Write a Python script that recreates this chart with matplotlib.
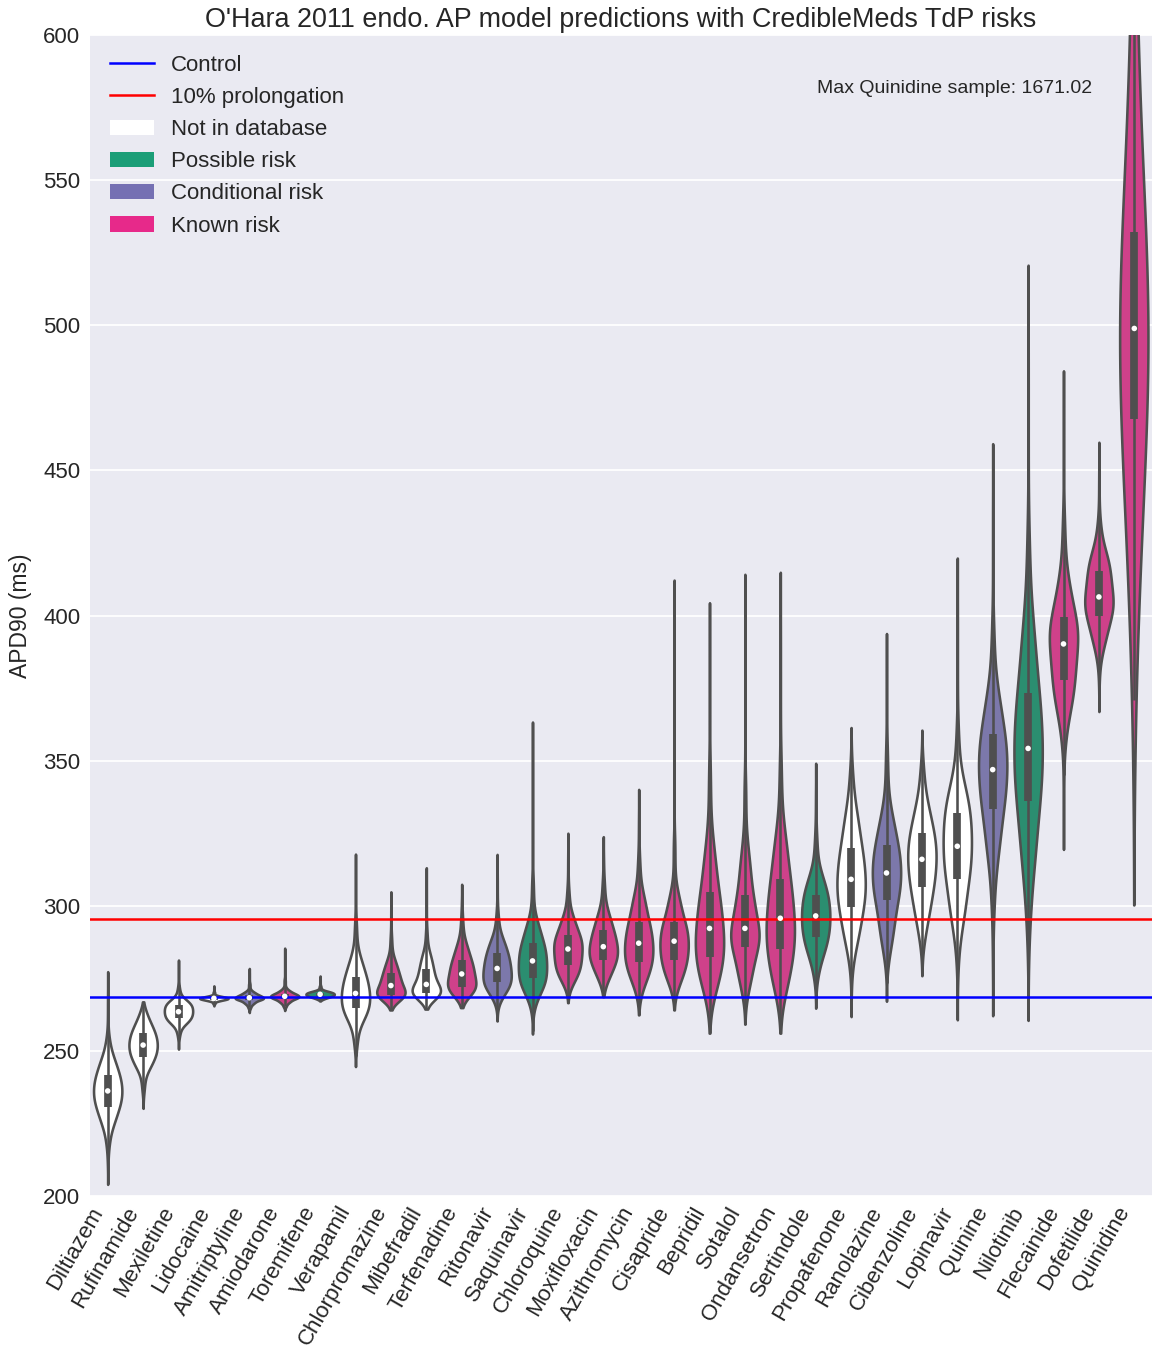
import numpy as np
import matplotlib
matplotlib.use("Agg")
import matplotlib.pyplot as plt
from matplotlib.patches import Patch
from matplotlib.lines import Line2D
import colorsys
from math import erf, sqrt

# ---------------- data ----------------
drugs = ["Diltiazem", "Rufinamide", "Mexiletine", "Lidocaine", "Amitriptyline",
         "Amiodarone", "Toremifene", "Verapamil", "Chlorpromazine", "Mibefradil",
         "Terfenadine", "Ritonavir", "Saquinavir", "Chloroquine", "Moxifloxacin",
         "Azithromycin", "Cisapride", "Bepridil", "Sotalol", "Ondansetron",
         "Sertindole", "Propafenone", "Ranolazine", "Cibenzoline", "Lopinavir",
         "Quinine", "Nilotinib", "Flecainide", "Dofetilide", "Quinidine"]

risk = ["none", "none", "none", "none", "conditional",
        "known", "possible", "none", "known", "none",
        "known", "conditional", "possible", "known", "known",
        "known", "known", "known", "known", "known",
        "possible", "none", "conditional", "none", "none",
        "conditional", "possible", "known", "known", "known"]

# APD90 (ms) sample quantiles per drug
apd_min = [204.0, 230.2, 250.6, 265.5, 263.2, 263.9, 267.2, 244.6, 264.1, 264.4,
           264.9, 260.3, 255.8, 266.6, 268.7, 262.4, 264.1, 256.1, 259.2, 256.1,
           264.7, 261.8, 267.1, 275.9, 260.7, 262.1, 260.5, 319.4, 366.9, 300.1]
apd_p01 = [217.4, 237.0, 255.5, 266.3, 264.8, 265.2, 267.7, 252.0, 267.8, 268.0,
           268.8, 267.5, 266.0, 272.5, 273.0, 270.0, 271.0, 268.0, 270.0, 268.5,
           276.0, 282.0, 283.0, 288.0, 285.0, 298.0, 295.0, 355.0, 385.0, 385.0]
apd_p05 = [222.9, 242.5, 258.2, 267.0, 265.9, 266.3, 268.1, 258.0, 268.3, 268.8,
           269.8, 270.0, 269.5, 274.5, 275.5, 274.0, 274.5, 272.5, 274.5, 273.0,
           281.0, 287.5, 288.0, 294.0, 294.0, 313.0, 310.0, 364.0, 390.0, 410.0]
apd_p10 = [225.8, 244.5, 259.5, 267.3, 266.5, 266.9, 268.4, 261.0, 268.7, 269.3,
           270.6, 271.2, 271.5, 276.2, 277.5, 276.0, 276.5, 275.5, 277.5, 276.5,
           284.0, 291.0, 292.0, 298.0, 298.0, 320.0, 318.0, 369.0, 393.0, 430.0]
apd_q1 = [230.8, 248.0, 261.2, 267.7, 267.6, 268.0, 268.9, 264.7, 269.2, 269.8,
          272.1, 273.8, 275.0, 279.6, 281.3, 280.7, 281.3, 282.4, 285.9, 285.0,
          289.4, 299.7, 301.9, 306.4, 309.1, 333.5, 336.1, 377.7, 399.9, 467.6]
apd_med = [236.2, 252.0, 263.5, 268.1, 268.3, 268.8, 269.5, 269.8, 272.5, 272.9,
           276.5, 278.4, 281.0, 285.1, 285.9, 287.1, 287.8, 292.2, 292.2, 295.7,
           296.5, 309.1, 311.3, 316.0, 320.5, 346.9, 354.2, 390.2, 406.4, 498.9]
apd_q3 = [241.7, 256.1, 265.8, 268.5, 269.2, 269.7, 270.1, 275.6, 276.7, 278.1,
          281.3, 283.6, 287.1, 289.9, 291.6, 294.5, 294.5, 304.8, 303.7, 309.1,
          303.7, 319.8, 320.9, 324.9, 332.0, 359.2, 373.3, 399.4, 415.2, 532.1]
apd_p90 = [246.6, 259.5, 267.3, 268.9, 270.2, 270.8, 270.6, 281.0, 280.5, 282.5,
           286.0, 288.0, 293.0, 295.0, 297.0, 302.0, 302.0, 318.0, 316.0, 322.0,
           309.5, 330.0, 330.0, 333.0, 340.0, 371.0, 393.0, 410.0, 421.0, 585.0]
apd_p95 = [249.5, 261.5, 268.5, 269.3, 271.0, 271.8, 271.1, 285.0, 283.0, 285.0,
           289.0, 291.0, 297.0, 298.0, 301.0, 306.0, 307.0, 327.0, 324.0, 330.0,
           314.0, 335.0, 337.0, 338.0, 346.0, 379.0, 404.0, 418.0, 425.0, 625.0]
apd_p99 = [255.0, 264.0, 272.0, 270.4, 273.5, 275.0, 272.5, 295.0, 290.0, 292.0,
           296.0, 298.0, 310.0, 306.0, 309.0, 317.0, 325.0, 350.0, 345.0, 352.0,
           325.0, 345.0, 355.0, 347.0, 362.0, 398.0, 430.0, 435.0, 433.0, 720.0]
apd_max = [277.3, 266.9, 281.3, 272.4, 278.4, 285.4, 275.8, 317.8, 304.8, 313.1,
           307.4, 317.7, 363.3, 325.0, 323.8, 340.1, 412.2, 404.4, 414.2, 414.9,
           349.1, 361.4, 393.8, 360.5, 419.8, 459.2, 520.7, 484.3, 459.7, 1671.02]

control_apd = 268.5
prolongation_apd = control_apd * 1.1

risk_labels = ["Not in database", "Possible risk", "Conditional risk", "Known risk"]
risk_keys = ["none", "possible", "conditional", "known"]

# ---------------- style ----------------
PROBS = np.array([0, .01, .05, .10, .25, .50, .75, .90, .95, .99, 1.0])
risk_colors = {"none": "#ffffff", "possible": "#1b9e77",
               "conditional": "#7570b3", "known": "#e7298a"}
GRAY = "#4f4f4f"
LW = 1.85
TEXT = "#262626"
BW_FACTOR = 0.3
bw_override = {"Quinidine": 40.0}

plt.rcParams["font.family"] = ["Liberation Sans", "DejaVu Sans"]
plt.rcParams["text.color"] = TEXT
plt.rcParams["axes.labelcolor"] = TEXT
plt.rcParams["xtick.color"] = TEXT
plt.rcParams["ytick.color"] = TEXT


def desat(c, prop=0.75):
    r, g, b = matplotlib.colors.to_rgb(c)
    h, l, s = colorsys.rgb_to_hls(r, g, b)
    return colorsys.hls_to_rgb(h, l, s * prop)


phi = np.vectorize(lambda z: 0.5 * (1.0 + erf(z / sqrt(2.0))))

fig = plt.figure(figsize=(11.52, 13.48), dpi=100)
ax = fig.add_axes([90 / 1152, 1 - 1196 / 1348, 1062 / 1152, 1161 / 1348])
ax.set_facecolor("#EAEAF2")
for s in ax.spines.values():
    s.set_visible(False)
ax.yaxis.grid(True, color="white", lw=1.3)
ax.xaxis.grid(False)
ax.set_axisbelow(True)

n = len(drugs)
pos = np.arange(n)
table = np.array([apd_min, apd_p01, apd_p05, apd_p10, apd_q1, apd_med,
                  apd_q3, apd_p90, apd_p95, apd_p99, apd_max]).T

vpstats = []
for i in range(n):
    qs = table[i].copy()
    iqr_i = apd_q3[i] - apd_q1[i]
    h = bw_override.get(drugs[i], BW_FACTOR * iqr_i)
    # the drawn tips lie a little beyond the sample support (kde cut)
    edges = qs.copy()
    edges[0] = min(qs[0] + 2.0 * h, qs[1] - 0.05 * (qs[1] - qs[0]))
    edges[-1] = max(qs[-1] - 2.0 * h, qs[-2] + 0.05 * (qs[-1] - qs[-2]))
    y = np.linspace(qs[0], qs[-1], 800)
    dens = np.zeros_like(y)
    for a, b, m in zip(edges[:-1], edges[1:], np.diff(PROBS)):
        w = max(b - a, 1e-6)
        dens += m / w * (phi((b - y) / h) - phi((a - y) / h))
    vpstats.append(dict(coords=y, vals=dens, mean=apd_med[i], median=apd_med[i],
                        min=qs[0], max=qs[-1], quantiles=[]))

parts = ax.violin(vpstats, positions=pos, widths=0.8, showmeans=False,
                  showextrema=False, showmedians=False)
for body, r in zip(parts["bodies"], risk):
    body.set_facecolor(desat(risk_colors[r]))
    body.set_edgecolor(GRAY)
    body.set_linewidth(LW)
    body.set_alpha(1)
    body.set_zorder(1)

q1 = np.array(apd_q1)
q3 = np.array(apd_q3)
iqr = q3 - q1
wlo = np.maximum(q1 - 1.5 * iqr, apd_min)
whi = np.minimum(q3 + 1.5 * iqr, apd_max)
ax.vlines(pos, wlo, whi, colors=GRAY, lw=LW, zorder=2)
ax.vlines(pos, q1, q3, colors=GRAY, lw=LW * 3, zorder=2)

ax.axhline(control_apd, color="blue", lw=1.8, zorder=2.5)
ax.axhline(prolongation_apd, color="red", lw=1.8, zorder=2.5)

ax.scatter(pos, apd_med, s=16, c="white", edgecolors="none", zorder=3)

ax.set_xlim(-0.5, n - 0.5)
ax.set_ylim(200, 600)
ax.set_yticks(np.arange(200, 601, 50))
ax.set_xticks(pos)
ax.set_xticklabels(drugs, rotation=60, ha="right")
ax.tick_params(axis="both", length=0, labelsize=16)
ax.tick_params(axis="y", pad=7)
ax.tick_params(axis="x", pad=5)
ax.set_ylabel("APD90 (ms)", fontsize=16.5, labelpad=8)
ax.set_title("O'Hara 2011 endo. AP model predictions with CredibleMeds TdP risks",
             fontsize=19.4, pad=6)

ax.text(23.92, 581.7, "Max Quinidine sample: {:.2f}".format(apd_max[-1]),
        ha="center", va="center", fontsize=14.0)

handles = [Line2D([], [], color="blue", lw=1.8), Line2D([], [], color="red", lw=1.8)]
handles += [Patch(facecolor=risk_colors[k], edgecolor="none") for k in risk_keys]
labels = ["Control", "10% prolongation"] + risk_labels
ax.legend(handles, labels, loc="upper left", frameon=False, fontsize=16.0,
          handlelength=2.0, handletextpad=0.75, labelspacing=0.5)

fig.savefig("out.png", dpi=100)
